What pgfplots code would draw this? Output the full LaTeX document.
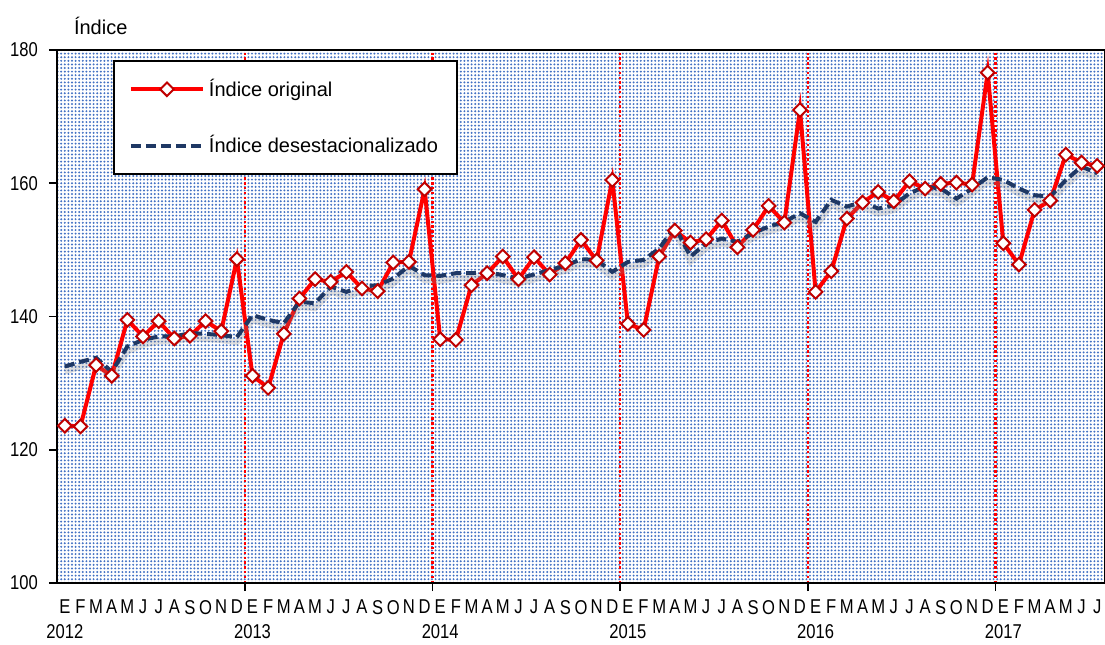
\documentclass[border=0pt]{standalone}
\usepackage{fontspec}
\setmainfont{Liberation Sans}
\newfontfamily\tickfont{Liberation Sans}[FakeStretch=0.83]
\usepackage{pgfplots}
\pgfplotsset{compat=1.18}
\usetikzlibrary{patterns.meta}
\definecolor{dotblue}{HTML}{4472C4}
\definecolor{navy}{HTML}{1F3864}
\definecolor{mkred}{HTML}{C00000}

\pgfplotsset{
  redleg/.style={legend image code/.code={\draw[mark repeat=2,mark phase=2,##1] plot coordinates {(0pt,0pt) (18pt,0pt) (36pt,0pt)};}},
  blueleg/.style={legend image code/.code={\draw[##1] (0pt,0pt) -- (36pt,0pt);}},
}

\pgfplotstableread{
x y
0 123.6
1 123.5
2 132.7
3 131.1
4 139.5
5 137.0
6 139.3
7 136.7
8 137.1
9 139.3
10 137.8
11 148.6
12 131.1
13 129.3
14 137.4
15 142.7
16 145.6
17 145.2
18 146.7
19 144.2
20 143.8
21 148.1
22 148.2
23 159.1
24 136.6
25 136.5
26 144.7
27 146.5
28 149.0
29 145.6
30 148.9
31 146.3
32 148.0
33 151.5
34 148.4
35 160.5
36 138.9
37 138.0
38 149.0
39 152.9
40 151.1
41 151.6
42 154.4
43 150.4
44 153.0
45 156.6
46 154.1
47 171.0
48 143.7
49 146.8
50 154.7
51 157.1
52 158.7
53 157.3
54 160.3
55 159.2
56 159.9
57 160.1
58 159.8
59 176.6
60 151.0
61 147.8
62 156.0
63 157.4
64 164.3
65 163.1
66 162.6
}\original

\pgfplotstableread{
x y
0 132.5
1 133.2
2 133.8
3 131.7
4 135.5
5 136.5
6 137.0
7 137.0
8 137.5
9 137.4
10 137.2
11 136.9
12 140.2
13 139.5
14 139.0
15 142.2
16 142.0
17 144.5
18 143.7
19 144.5
20 144.7
21 145.7
22 147.6
23 146.2
24 146.1
25 146.5
26 146.5
27 146.7
28 146.2
29 145.7
30 146.3
31 147.0
32 147.6
33 148.6
34 148.5
35 146.7
36 148.2
37 148.5
38 150.2
39 153.5
40 149.0
41 151.0
42 151.7
43 151.2
44 152.5
45 153.5
46 154.2
47 155.5
48 154.2
49 157.5
50 156.5
51 157.2
52 156.2
53 156.7
54 158.5
55 159.5
56 159.2
57 157.7
58 159.2
59 160.9
60 160.5
61 159.2
62 158.2
63 158.0
64 160.5
65 162.5
66 161.5
}\desest

\begin{document}
\begin{tikzpicture}[font=\fontsize{10pt}{12.5pt}\selectfont]
\useasboundingbox (0,0) rectangle (552.5pt,322pt);
\begin{axis}[
  at={(28.5pt,30.5pt)}, anchor=south west,
  scale only axis, width=524pt, height=266.5pt,
  xmin=-0.5, xmax=66.5, ymin=100, ymax=180,
  axis line style={black, line width=0.8pt},
  axis background/.style={fill=white, postaction={pattern={Dots[distance=1.8pt,radius=0.55pt]}, pattern color=dotblue}},
  tick align=outside,
  xtick pos=bottom, ytick pos=left,
  ytick={100,120,140,160,180},
  major tick length=4pt,
  tick style={black, line width=0.8pt},
  /pgf/number format/assume math mode=true,
  yticklabel style={font=\tickfont\fontsize{10pt}{12.5pt}\selectfont, xshift=-2pt},
  xtick={11.5,23.5,35.5,47.5,59.5},
  xticklabels={},
  xmajorgrids,
  major grid style={red, line width=1.2pt, dash pattern=on 1.2pt off 1.2pt},
  extra x ticks={0,...,66},
  extra x tick style={major tick length=0pt, grid=none},
  extra x tick labels={{E\\2012},F,M,A,M,J,J,A,S,O,N,D,
    {E\\2013},F,M,A,M,J,J,A,S,O,N,D,
    {E\\2014},F,M,A,M,J,J,A,S,O,N,D,
    {E\\2015},F,M,A,M,J,J,A,S,O,N,D,
    {E\\2016},F,M,A,M,J,J,A,S,O,N,D,
    {E\\2017},F,M,A,M,J,J},
  xticklabel style={align=center, font=\tickfont\fontsize{10pt}{12.5pt}\selectfont, yshift=-5pt},
  legend style={at={(0.0534,0.981)}, anchor=north west, draw=black, line width=1pt,
    fill=white, font=\fontsize{10pt}{12.5pt}\selectfont, row sep=14pt,
    inner xsep=7.5pt, inner ysep=7pt},
  legend cell align=left,
]
\addplot[red, line width=2pt, mark=square*, mark size=2.4pt,
  mark options={rotate=45, fill=white, draw=mkred, line width=1pt, solid}, redleg]
  table[x=x,y=y]{\original};
\addlegendentry{Índice original}
\addplot[gray, opacity=0.25, line width=3pt, yshift=-2.5pt, forget plot] table[x=x,y=y]{\desest};
\addplot[navy, line width=2pt, dash pattern=on 5pt off 2.5pt, blueleg]
  table[x=x,y=y]{\desest};
\addlegendentry{Índice desestacionalizado}
\end{axis}
\node[anchor=base west, font=\fontsize{10pt}{12.5pt}\selectfont] at (33.5pt,304.5pt) {Índice};
\end{tikzpicture}
\end{document}
